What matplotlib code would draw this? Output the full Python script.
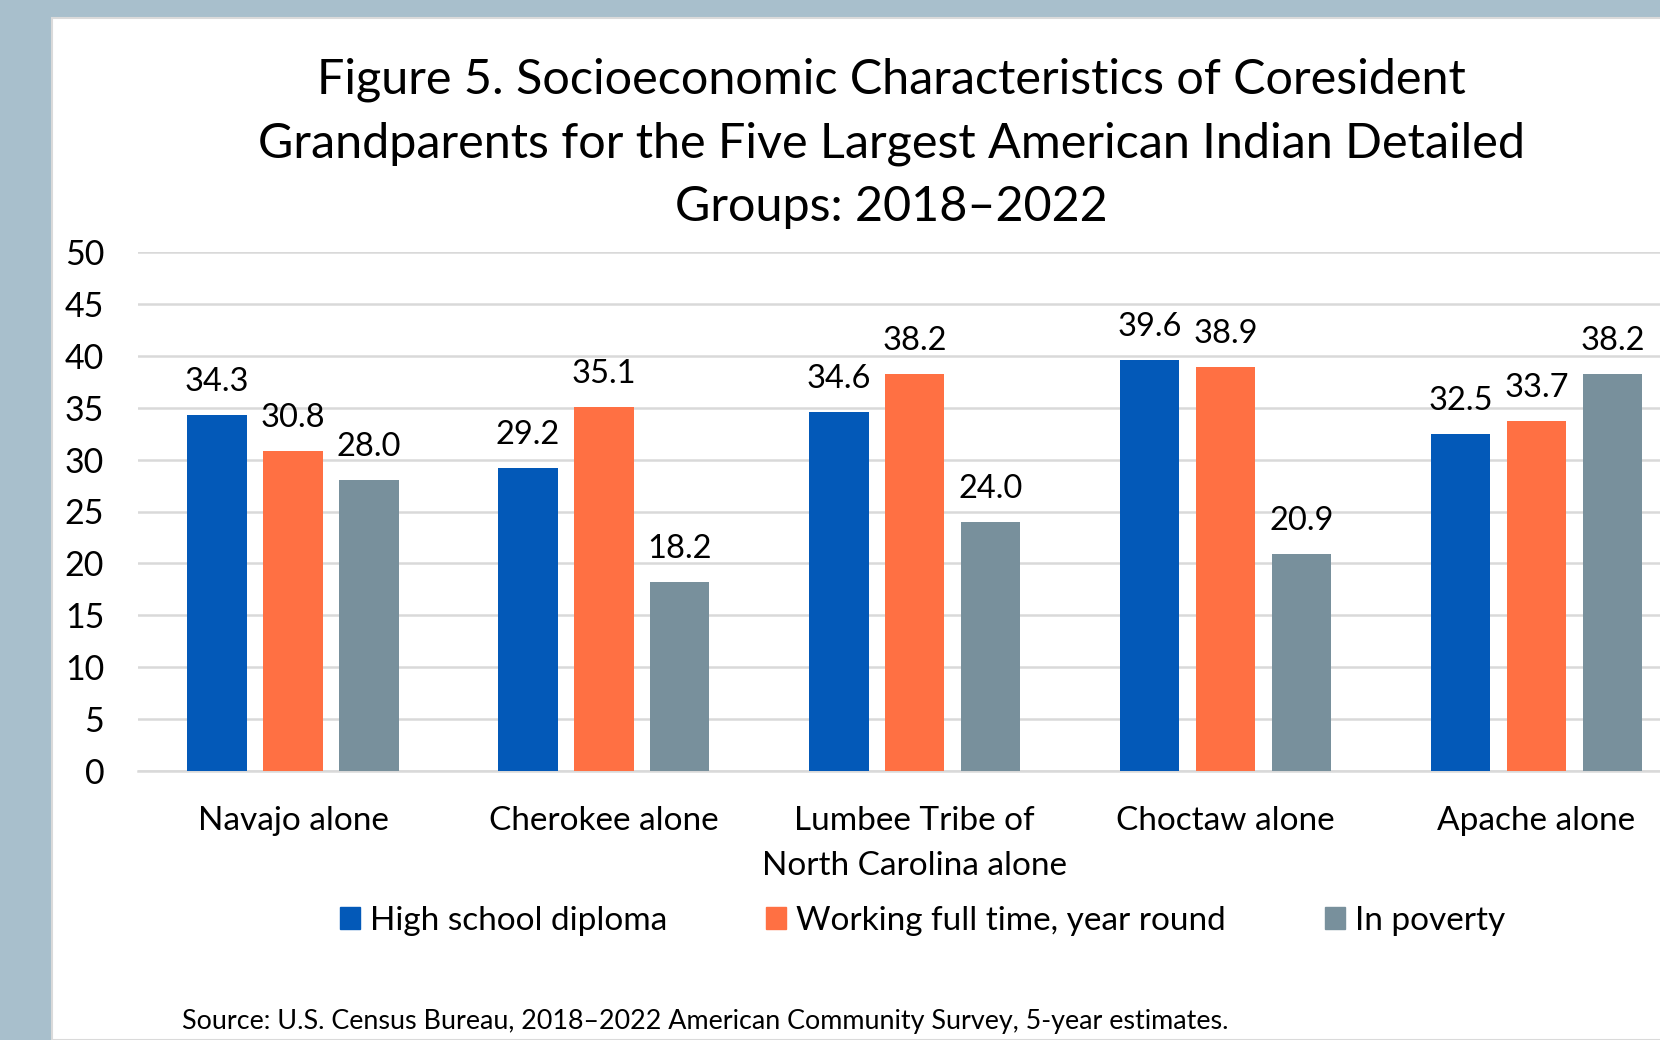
import matplotlib
matplotlib.use("Agg")
import matplotlib.pyplot as plt
from matplotlib.patches import Rectangle, Patch
import numpy as np

plt.rcParams['font.family'] = ['Lato', 'DejaVu Sans']

categories = ["Navajo alone", "Cherokee alone", "Lumbee Tribe of\nNorth Carolina alone",
              "Choctaw alone", "Apache alone"]
series_names = ["High school diploma", "Working full time, year round", "In poverty"]
high_school = [34.3, 29.2, 34.6, 39.6, 32.5]
working_full = [30.8, 35.1, 38.2, 38.9, 33.7]
in_poverty = [28.0, 18.2, 24.0, 20.9, 38.2]
yticks = [0, 5, 10, 15, 20, 25, 30, 35, 40, 45, 50]
title_lines = ["Figure 5. Socioeconomic Characteristics of Coresident",
               "Grandparents for the Five Largest American Indian Detailed",
               "Groups: 2018\u20132022"]
source = "Source: U.S. Census Bureau, 2018\u20132022 American Community Survey, 5-year estimates."

colors = ["#0359B8", "#FF7043", "#78909C"]
W, H = 1660, 1040
fig = plt.figure(figsize=(W / 100, H / 100), dpi=100, facecolor="#A8BFCC")

# white panel
panel = Rectangle((52 / W, 0), 1 - 52 / W + 0.01, 1 - 18 / H, transform=fig.transFigure,
                  facecolor="white", edgecolor="#DADADA", lw=1.5, zorder=-1)
fig.patches.append(panel)

ax_left = 137.5 / W
ax_right = 1692 / W
ax_bottom = 1 - 771 / H
ax_top = 1 - 252 / H
ax = fig.add_axes([ax_left, ax_bottom, ax_right - ax_left, ax_top - ax_bottom])
ax.set_facecolor("none")

x = np.arange(len(categories))
offs = [-0.244, 0.0, 0.244]
bw = 0.191
data = [high_school, working_full, in_poverty]
for i, (vals, c) in enumerate(zip(data, colors)):
    bars = ax.bar(x + offs[i], vals, width=bw, color=c, zorder=3, clip_on=False)
    for b, v in zip(bars, vals):
        ax.annotate(f"{v:.1f}", (b.get_x() + b.get_width() / 2, v), xytext=(0, 13),
                    textcoords="offset points", ha="center", va="bottom",
                    fontsize=23.5, color="#000000")

ax.set_xlim(-0.5, len(categories) - 0.5)
ax.set_ylim(0, 50)
ax.set_yticks(yticks)
ax.set_yticklabels([str(t) for t in yticks], fontsize=24.5)
ax.set_xticks(x)
ax.set_xticklabels(categories, fontsize=24, linespacing=1.62, va="top")
ax.tick_params(axis="both", length=0)
ax.tick_params(axis="y", pad=24)
ax.tick_params(axis="x", pad=25.5)
ax.grid(axis="y", color="#D9D9D9", lw=1.8, zorder=0)
ax.set_axisbelow(True)
for s in ["top", "right", "left"]:
    ax.spines[s].set_visible(False)
ax.spines["bottom"].set_color("#D9D9D9")
ax.spines["bottom"].set_linewidth(1.8)

# title
for yy, line in zip([80, 144, 207], title_lines):
    fig.text(891 / W, 1 - yy / H, line, ha="center", va="center", fontsize=34.9)

handles = [Patch(facecolor=c, edgecolor=c) for c in colors]
fig.legend(handles, series_names, loc="center", bbox_to_anchor=(922.5 / W, 1 - 921 / H),
           ncol=3, frameon=False, fontsize=24, handlelength=0.62, handleheight=0.62,
           handletextpad=0.3, columnspacing=2.95)

fig.text(182 / W, 1 - 1022 / H, source, ha="left", va="center", fontsize=19.35)

fig.savefig("out.png", dpi=100, facecolor=fig.get_facecolor())
